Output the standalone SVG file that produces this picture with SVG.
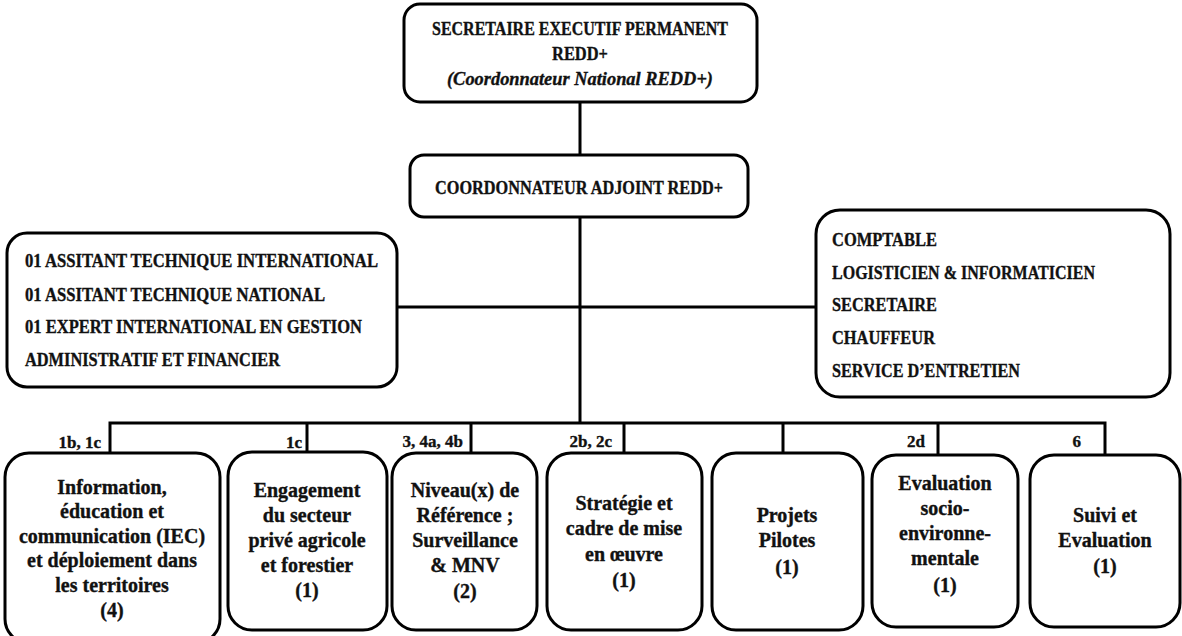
<svg xmlns="http://www.w3.org/2000/svg" width="1182" height="636" viewBox="0 0 1182 636">
<style>
.box{fill:#fff;stroke:#000;stroke-width:3}
.ln{fill:none;stroke:#000;stroke-width:3}
text{font-family:"Liberation Serif","Times New Roman",serif;font-weight:bold;fill:#111;stroke:#111;stroke-width:0.35}
.cap{font-size:19px}
.top{font-size:19px}
.c{text-anchor:middle;font-size:20px}
.lab{font-size:17px;text-anchor:end}
.it{font-style:italic}
</style>
<rect width="1182" height="636" fill="#fff"/>
<g id="connectors">
<path class="ln" d="M580 102V155M580 217V423M397 307H816M110 453V423H1105V455M307 423V452M471 423V453M624 423V453M783 423V453M938 423V455"/>
</g>
<g id="n_secretaire">
<rect class="box" x="404" y="4" width="353" height="98" rx="16"/>
<text class="top" x="580" y="35" text-anchor="middle" textLength="296" lengthAdjust="spacingAndGlyphs">SECRETAIRE EXECUTIF PERMANENT</text>
<text class="top" x="580" y="60" text-anchor="middle" textLength="56" lengthAdjust="spacingAndGlyphs">REDD+</text>
<text class="top it" x="580" y="85" text-anchor="middle" textLength="266" lengthAdjust="spacingAndGlyphs">(Coordonnateur National REDD+)</text>
</g>
<g id="n_adjoint">
<rect class="box" x="410" y="155" width="338" height="62" rx="14"/>
<text class="top" x="579" y="194" text-anchor="middle" textLength="288" lengthAdjust="spacingAndGlyphs">COORDONNATEUR ADJOINT REDD+</text>
</g>
<g id="n_assistants">
<rect class="box" x="7" y="233" width="390" height="154" rx="20"/>
<text class="cap" x="25" y="267" textLength="353" lengthAdjust="spacingAndGlyphs">01 ASSITANT TECHNIQUE INTERNATIONAL</text>
<text class="cap" x="25" y="301" textLength="300" lengthAdjust="spacingAndGlyphs">01 ASSITANT TECHNIQUE NATIONAL</text>
<text class="cap" x="25" y="333" textLength="337" lengthAdjust="spacingAndGlyphs">01 EXPERT INTERNATIONAL EN GESTION</text>
<text class="cap" x="25" y="366" textLength="255" lengthAdjust="spacingAndGlyphs">ADMINISTRATIF ET FINANCIER</text>
</g>
<g id="n_support">
<rect class="box" x="816" y="210" width="354" height="187" rx="24"/>
<text class="cap" x="832" y="246" textLength="105" lengthAdjust="spacingAndGlyphs">COMPTABLE</text>
<text class="cap" x="832" y="279" textLength="263" lengthAdjust="spacingAndGlyphs">LOGISTICIEN &amp; INFORMATICIEN</text>
<text class="cap" x="832" y="311" textLength="105" lengthAdjust="spacingAndGlyphs">SECRETAIRE</text>
<text class="cap" x="832" y="344" textLength="103" lengthAdjust="spacingAndGlyphs">CHAUFFEUR</text>
<text class="cap" x="832" y="377" textLength="188" lengthAdjust="spacingAndGlyphs">SERVICE D’ENTRETIEN</text>
</g>
<g id="labels">
<text class="lab" x="101" y="448">1b, 1c</text>
<text class="lab" x="302" y="448">1c</text>
<text class="lab" x="463" y="447">3, 4a, 4b</text>
<text class="lab" x="612" y="447">2b, 2c</text>
<text class="lab" x="925" y="447">2d</text>
<text class="lab" x="1081" y="447">6</text>
</g>
<g id="n_iec">
<rect class="box" x="5" y="453" width="215" height="190" rx="24"/>
<text class="c" x="112" y="494">Information,</text>
<text class="c" x="112" y="518">éducation et</text>
<text class="c" x="112" y="543">communication (IEC)</text>
<text class="c" x="112" y="567">et déploiement dans</text>
<text class="c" x="112" y="592">les territoires</text>
<text class="c" x="112" y="617">(4)</text>
</g>
<g id="n_prive">
<rect class="box" x="228" y="452" width="159" height="178" rx="24"/>
<text class="c" x="307" y="497">Engagement</text>
<text class="c" x="307" y="522">du secteur</text>
<text class="c" x="307" y="547">privé agricole</text>
<text class="c" x="307" y="572">et forestier</text>
<text class="c" x="307" y="597">(1)</text>
</g>
<g id="n_niveau">
<rect class="box" x="392" y="453" width="145" height="177" rx="24"/>
<text class="c" x="465" y="497">Niveau(x) de</text>
<text class="c" x="465" y="522">Référence ;</text>
<text class="c" x="465" y="547">Surveillance</text>
<text class="c" x="465" y="572">&amp; MNV</text>
<text class="c" x="465" y="598">(2)</text>
</g>
<g id="n_strategie">
<rect class="box" x="547" y="453" width="155" height="177" rx="24"/>
<text class="c" x="624" y="510">Stratégie et</text>
<text class="c" x="624" y="535">cadre de mise</text>
<text class="c" x="624" y="561">en œuvre</text>
<text class="c" x="624" y="587">(1)</text>
</g>
<g id="n_projets">
<rect class="box" x="712" y="453" width="151" height="177" rx="24"/>
<text class="c" x="787" y="522">Projets</text>
<text class="c" x="787" y="547">Pilotes</text>
<text class="c" x="787" y="574">(1)</text>
</g>
<g id="n_eval">
<rect class="box" x="872" y="455" width="146" height="172" rx="24"/>
<text class="c" x="945" y="490">Evaluation</text>
<text class="c" x="945" y="515">socio-</text>
<text class="c" x="945" y="540">environne-</text>
<text class="c" x="945" y="565">mentale</text>
<text class="c" x="945" y="592">(1)</text>
</g>
<g id="n_suivi">
<rect class="box" x="1030" y="455" width="150" height="172" rx="24"/>
<text class="c" x="1105" y="522">Suivi et</text>
<text class="c" x="1105" y="547">Evaluation</text>
<text class="c" x="1105" y="573">(1)</text>
</g>
</svg>
